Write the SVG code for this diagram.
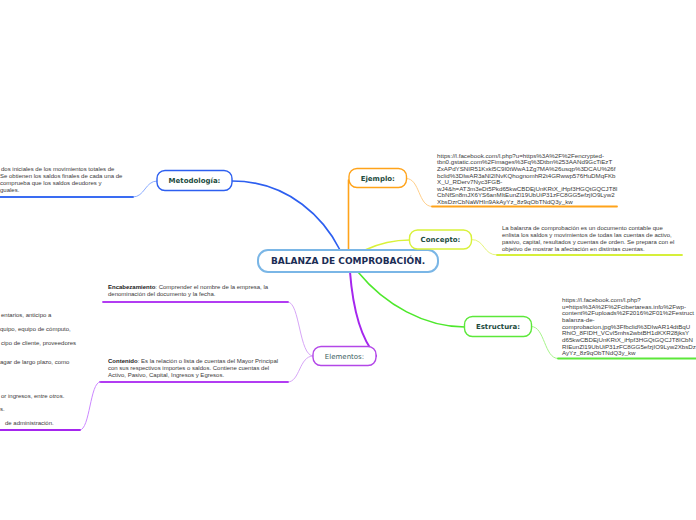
<svg xmlns="http://www.w3.org/2000/svg" width="696" height="520" viewBox="0 0 696 520">
<style>
.node{fill:#fff;}
.lbl{font-family:"DejaVu Sans",Verdana,sans-serif;font-size:7px;font-weight:bold;fill:#1d4c3e;text-anchor:middle;}
.txt{font-family:"Liberation Sans",Arial,sans-serif;font-size:6px;fill:#3a3a3a;}
.url{font-family:"Liberation Sans",Arial,sans-serif;font-size:6.2px;fill:#3a3a3a;}
.c{fill:none;stroke-linecap:round;}
</style>
<rect width="696" height="520" fill="#fff"/>
<g id="connectors">
  <path class="c" d="M232,181 C290,181 325,220 340,250" stroke="#2d5ff0" stroke-width="1.6"/>
  <path class="c" d="M348.5,250 L348.5,180" stroke="#ffa31a" stroke-width="1.6"/>
  <path class="c" d="M365,250 C380,243 395,240 410,240" stroke="#d9f23a" stroke-width="1.6"/>
  <path class="c" d="M358,272 C385,305 425,327 465,327" stroke="#4ee82c" stroke-width="1.6"/>
  <path class="c" d="M350,272 C353,310 362,340 376,356" stroke="#a526ee" stroke-width="2"/>
  <path class="c" d="M157,181 C145,181 145,197 133,197" stroke="#8cadff" stroke-width="1"/>
  <path class="c" d="M133,197 L0,197" stroke="#3a6cf2" stroke-width="1.8"/>
  <path class="c" d="M406.5,178.5 C420,178.5 418,206.5 432,206.5" stroke="#ffcf8a" stroke-width="1"/>
  <path class="c" d="M432,206.5 L617,206.5" stroke="#ffa31a" stroke-width="1.8"/>
  <path class="c" d="M471.5,239.5 C485,239.5 483,255 497,255" stroke="#e6f57a" stroke-width="1"/>
  <path class="c" d="M497,255 L682,255" stroke="#d6ef3a" stroke-width="1.8"/>
  <path class="c" d="M531.5,326.5 C545,326.5 544,358.5 558,358.5" stroke="#a6f58a" stroke-width="1"/>
  <path class="c" d="M558,358.5 L698,358.5" stroke="#5ce83a" stroke-width="1.8"/>
  <path class="c" d="M313,356 C299,356 300,302 288,302" stroke="#d7a6f7" stroke-width="1"/>
  <path class="c" d="M288,302 L103,302" stroke="#b23cf2" stroke-width="1.8"/>
  <path class="c" d="M313,356 C299,356 300,382 288,382" stroke="#d7a6f7" stroke-width="1"/>
  <path class="c" d="M288,382 L100,382" stroke="#b23cf2" stroke-width="1.8"/>
  <path class="c" d="M100,382 C90,382 90,430 80,430" stroke="#cc88ff" stroke-width="1"/>
  <path class="c" d="M80,430 L0,430" stroke="#a526ee" stroke-width="1.8"/>
</g>
<g id="center">
  <rect class="node" x="258" y="250" width="180" height="22" rx="10" stroke="#7ab6e6" stroke-width="2"/>
  <text x="348" y="264.3" font-family="'DejaVu Sans',Verdana,sans-serif" font-size="9" font-weight="bold" fill="#1b2d55" text-anchor="middle">BALANZA DE COMPROBACIÓN.</text>
</g>
<g id="metodologia">
  <rect class="node" x="157" y="170.5" width="75" height="20" rx="8" stroke="#2d5ff0" stroke-width="1.4"/>
  <text class="lbl" x="194.5" y="183">Metodología:</text>
</g>
<g id="metodologia-text">
  <text class="txt" x="1" y="170.5">dos iniciales de los movimientos totales de</text>
  <text class="txt" x="0" y="177.5">Se obtienen los saldos finales de cada una de</text>
  <text class="txt" x="0" y="184.5">comprueba que los saldos deudores y</text>
  <text class="txt" x="0" y="191.5">guales.</text>
</g>
<g id="ejemplo">
  <rect class="node" x="349" y="168.5" width="57.5" height="19" rx="8" stroke="#ffa31a" stroke-width="1.4"/>
  <text class="lbl" x="377.8" y="180.6">Ejemplo:</text>
</g>
<g id="ejemplo-text">
  <text class="url" x="437" y="157.8">https://l.facebook.com/l.php?u=https%3A%2F%2Fencrypted-</text>
  <text class="url" x="437" y="164.4">tbn0.gstatic.com%2Fimages%3Fq%3Dtbn%253AANd9GcTiEzT</text>
  <text class="url" x="437" y="171">ZxAPdYSNIR51Kxkl5C9I0tWwA1Zg7MA%26usqp%3DCAU%26f</text>
  <text class="url" x="437" y="177.6">bclid%3DIwAR3aNl2INvKQhognomhR2t4GRwwp576HuDMqFKb</text>
  <text class="url" x="437" y="184.2">X_U_RDerv7Nyc3FGB-</text>
  <text class="url" x="437" y="190.8">wJ4&amp;h=AT3m3eDt5Pkd65kwCBDEjUnKRtX_iHpf3HGQtGQCJT8I</text>
  <text class="url" x="437" y="197.4">CbNfSn8mJX6YS6anMItEunZl19UbUiP31zFC8GG5efzjIO9Lyw2</text>
  <text class="url" x="437" y="204">XbsDzrCbNaWHIn9AkAyYz_8z9qObTNdQ3y_kw</text>
</g>
<g id="concepto">
  <rect class="node" x="409.5" y="230" width="62" height="19" rx="8" stroke="#d9f23a" stroke-width="1.4"/>
  <text class="lbl" x="440.5" y="242.2">Concepto:</text>
</g>
<g id="concepto-text">
  <text class="txt" x="502" y="229.5">La balanza de comprobación es un documento contable que</text>
  <text class="txt" x="502" y="236.5">enlista los saldos y movimientos de todas las cuentas de activo,</text>
  <text class="txt" x="502" y="243.5">pasivo, capital, resultados y cuentas de orden. Se prepara con el</text>
  <text class="txt" x="502" y="250.5">objetivo de mostrar la afectación en distintas cuentas.</text>
</g>
<g id="estructura">
  <rect class="node" x="464.5" y="316.5" width="67" height="20" rx="8" stroke="#5ce83a" stroke-width="1.4"/>
  <text class="lbl" x="498" y="329">Estructura:</text>
</g>
<g id="estructura-text">
  <text class="url" x="562" y="302">https://l.facebook.com/l.php?</text>
  <text class="url" x="562" y="308.7">u=https%3A%2F%2Fcibertareas.info%2Fwp-</text>
  <text class="url" x="562" y="315.4">content%2Fuploads%2F2016%2F01%2Festruct</text>
  <text class="url" x="562" y="322">balanza-de-</text>
  <text class="url" x="562" y="328.7">comprobacion.jpg%3Ffbclid%3DIwAR14dtBqU</text>
  <text class="url" x="562" y="335.4">RhiO_8FIDH_VCvI5mhs2wbtBH1dKXR28jksY</text>
  <text class="url" x="562" y="342">d65kwCBDEjUnKRtX_iHpf3HGQtGQCJT8ICbN</text>
  <text class="url" x="562" y="348.7">RIEunZl19UbUiP31zFC8GG5efzjIO9Lyw2XbsDz</text>
  <text class="url" x="562" y="355.4">AyYz_8z9qObTNdQ3y_kw</text>
</g>
<g id="elementos">
  <rect class="node" x="313" y="346.5" width="63" height="19" rx="8" stroke="#b347e8" stroke-width="1.4"/>
  <text x="344.5" y="358.6" font-family="'DejaVu Sans',Verdana,sans-serif" font-size="7" fill="#3c6262" text-anchor="middle">Elementos:</text>
</g>
<g id="encabezamiento">
  <text class="txt" x="108" y="289"><tspan font-weight="bold" fill="#222">Encabezamiento</tspan>: Comprender el nombre de la empresa, la</text>
  <text class="txt" x="108" y="296">denominación del documento y la fecha.</text>
</g>
<g id="contenido">
  <text class="txt" x="108" y="363"><tspan font-weight="bold" fill="#222">Contenido</tspan>: Es la relación o lista de cuentas del Mayor Principal</text>
  <text class="txt" x="108" y="370">con sus respectivos importes o saldos. Contiene cuentas del</text>
  <text class="txt" x="108" y="377">Activo, Pasivo, Capital, Ingresos y Egresos.</text>
</g>
<g id="left-texts">
  <text class="txt" x="1" y="316.5">entarios, anticipo a</text>
  <text class="txt" x="0" y="330.5">quipo, equipo de cómputo,</text>
  <text class="txt" x="1" y="344.5">cipo de cliente, proveedores</text>
  <text class="txt" x="0" y="364">agar de largo plazo, como</text>
  <text class="txt" x="1" y="397.5">or ingresos, entre otros.</text>
  <text class="txt" x="0" y="411">s.</text>
  <text class="txt" x="5" y="425">de administración.</text>
</g>
</svg>
